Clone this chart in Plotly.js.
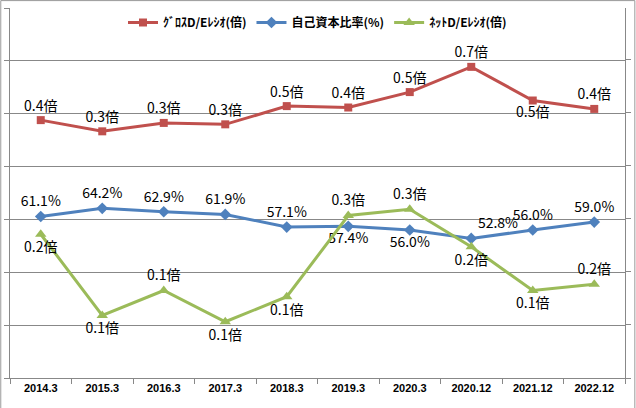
<!DOCTYPE html>
<html><head><meta charset="utf-8">
<script src="https://cdn.plot.ly/plotly-3.0.1.min.js"></script>
<style>body{margin:0}#chart{width:636px;height:408px}</style>
</head><body><div id="chart"></div>
<script>
const periods = ['2014.3','2015.3','2016.3','2017.3','2018.3','2019.3','2020.3','2020.12','2021.12','2022.12'];
const grossDE = [0.36,0.28,0.34,0.33,0.46,0.45,0.56,0.74,0.50,0.44];
const grossLabels = ['0.4倍','0.3倍','0.3倍','0.3倍','0.5倍','0.4倍','0.5倍','0.7倍','0.5倍','0.4倍'];
const equityRatio = [61.1,64.2,62.9,61.9,57.1,57.4,56.0,52.8,56.0,59.0];
const netDE = [0.23,0.10,0.14,0.09,0.13,0.26,0.27,0.21,0.14,0.15];
const netLabels = ['0.2倍','0.1倍','0.1倍','0.1倍','0.1倍','0.3倍','0.3倍','0.2倍','0.1倍','0.2倍'];

const font = {family: 'Noto Sans CJK JP, sans-serif', size: 14, color: '#000'};

const data = [
  {x: periods, y: grossDE, name: 'ｸﾞﾛｽD/Eﾚｼｵ(倍)', yaxis: 'y3', mode: 'lines+markers+text',
   line: {color: '#C0504D', width: 3}, marker: {symbol: 'square', size: 8, color: '#C0504D'},
   text: grossLabels, textfont: font,
   textposition: ['top center','top center','top center','top center','top center','top center','top center','top center','bottom center','top center']},
  {x: periods, y: equityRatio, name: '自己資本比率(%)', mode: 'lines+markers+text',
   line: {color: '#4F81BD', width: 3}, marker: {symbol: 'diamond', size: 9, color: '#4F81BD'},
   text: equityRatio.map(v => v.toFixed(1) + '%'), textfont: font,
   textposition: ['top center','top center','top center','top center','top center','bottom center','bottom center','top right','top center','top center']},
  {x: periods, y: netDE, name: 'ﾈｯﾄD/Eﾚｼｵ(倍)', yaxis: 'y2', mode: 'lines+markers+text',
   line: {color: '#9BBB59', width: 3}, marker: {symbol: 'triangle-up', size: 10, color: '#9BBB59'},
   text: netLabels, textfont: font,
   textposition: ['bottom center','bottom center','top center','bottom center','bottom center','top center','top center','bottom center','bottom center','top center']}
];

const layout = {
  width: 636, height: 408,
  margin: {l: 10, r: 11, t: 8, b: 30},
  paper_bgcolor: '#fff', plot_bgcolor: '#fff',
  font: {family: 'Noto Sans CJK JP, sans-serif', color: '#000'},
  showlegend: true,
  legend: {orientation: 'h', x: 0.5, xanchor: 'center', y: 1.0, yanchor: 'top',
           font: {size: 12, color: '#000', weight: 'bold'}, bgcolor: 'rgba(0,0,0,0)'},
  xaxis: {type: 'category', showline: true, linecolor: '#888', ticks: 'outside', tickson: 'boundaries',
          ticklen: 5, tickcolor: '#888', tickfont: {size: 11, family: 'Liberation Sans, Arial', weight: 'bold'},
          showgrid: false, range: [-0.5, 9.5]},
  yaxis: {range: [0, 140], dtick: 20, showgrid: true, gridcolor: '#888', showline: true, linecolor: '#888',
          ticks: 'outside', ticklen: 5, tickcolor: '#888', showticklabels: false, zeroline: false},
  yaxis2: {overlaying: 'y', side: 'right', range: [0, 0.592], dtick: 0.085, showgrid: false, showline: true,
           linecolor: '#888', ticks: 'outside', ticklen: 5, tickcolor: '#888', showticklabels: false, zeroline: false},
  yaxis3: {overlaying: 'y', range: [-1.48, 1.16], visible: false},
  shapes: [{type: 'rect', xref: 'paper', yref: 'paper', x0: -0.015, x1: 1.016, y0: -0.085, y1: 1.02,
            line: {color: '#999', width: 1}}]
};

Plotly.newPlot('chart', data, layout, {displayModeBar: false});
</script></body></html>
